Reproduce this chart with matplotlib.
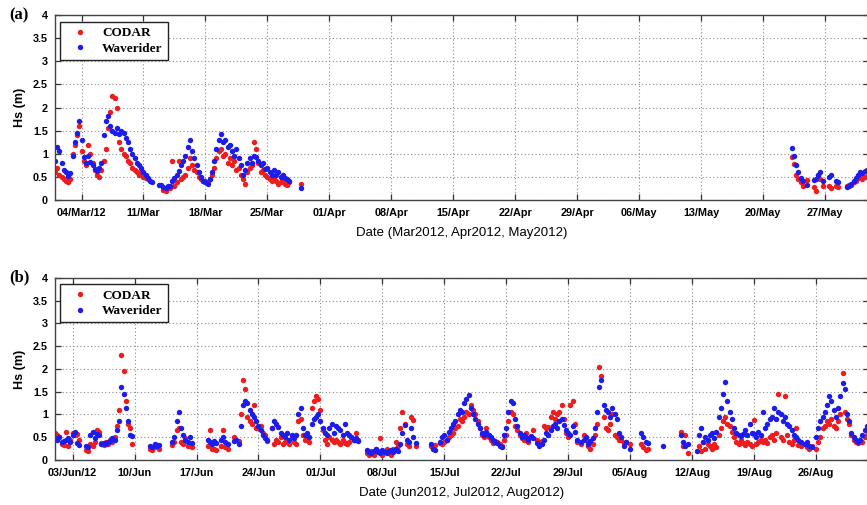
import numpy as np
import matplotlib
matplotlib.use("Agg")
import matplotlib.pyplot as plt

nan = float("nan")

# Significant wave height Hs (m), one reading every 6 hours from the start date.
# ---- Panel (a): March and late May 2012 ----
mar_start = "2012-03-01"
mar_codar = [
    0.60, 0.70, 0.55, 0.50,  0.45, 0.40, 0.38, 0.45,  1.00, 1.20, 1.40, 1.60,
    1.05, 0.85, 0.75, 1.20,  1.00, 0.80, 0.65, 0.55,  0.50, 0.65, 0.85, 1.10,
    1.55, 1.90, 2.25, 2.20,  2.00, 1.25, 1.10, 1.00,  0.95, 0.85, 0.80, 0.70,
    0.65, 0.60, 0.55, 0.60,  0.50, 0.48, 0.45, nan,   nan, nan, nan, nan,
    nan, 0.22, 0.20, 0.25,   0.25, 0.85, 0.30, 0.38,  0.85, 0.45, 0.50, 0.55,
    0.70, 0.90, 0.75, 0.65,  0.60, 0.50, 0.45, 0.42,  0.40, 0.38, 0.45, 0.55,
    0.70, 0.90, 1.05, 1.10,  0.95, 1.00, 0.80, 0.90,  0.75, 0.85, 0.65, 0.70,
    0.55, 0.45, 0.35, 0.60,  0.70, 0.75, 1.25, 1.10,  0.80, 0.60, 0.65, 0.55,
    0.50, 0.45, 0.40, 0.48,  0.40, 0.35, 0.38, 0.42,  0.35, 0.32, 0.38, nan,
    nan, nan, nan, 0.35,
]
mar_waverider = [
    0.85, 1.15, 1.05, 0.80,  0.65, 0.60, 0.52, 0.58,  0.95, 1.25, 1.45, 1.72,
    1.30, 0.92, 0.80, 0.95,  0.82, 0.75, 0.68, 0.62,  0.70, 0.80, 1.40, 1.70,
    1.82, 1.60, 1.50, 1.45,  1.55, 1.42, 1.50, 1.45,  1.35, 1.25, 1.10, 1.00,
    0.90, 0.80, 0.75, 0.70,  0.60, 0.55, 0.48, 0.42,  0.38, nan, nan, 0.33,
    0.32, 0.28, 0.25, 0.30,  0.30, 0.40, 0.48, 0.55,  0.62, 0.75, 0.85, 0.95,
    1.15, 1.30, 1.05, 0.90,  0.75, 0.60, 0.50, 0.42,  0.38, 0.35, 0.45, 0.60,
    0.85, 1.10, 1.30, 1.42,  1.25, 1.30, 1.15, 1.20,  1.05, 0.95, 1.10, 0.90,
    0.75, 0.55, 0.65, 0.80,  0.90, 0.80, 0.95, 0.92,  0.85, 0.75, 0.80, 0.68,
    0.70, 0.60, 0.55, 0.65,  0.55, 0.60, 0.50, 0.55,  0.48, 0.45, 0.40, nan,
    nan, nan, nan, 0.25,
]
may_start = "2012-05-23"
may_codar = [
    nan, 0.92, 0.78, 0.55,  0.45, 0.38, 0.30, nan,   0.43, nan, nan, 0.28,
    0.20, 0.55, 0.45, 0.30,  nan, nan, 0.30, 0.25,   nan, 0.30, 0.28, nan,
    nan, nan, 0.30, 0.32,    0.32, 0.38, 0.42, 0.48,  0.50, 0.45, 0.50, 0.52,
]
may_waverider = [
    nan, 1.12, 0.95, 0.75,  0.60, 0.48, 0.42, nan,   0.33, nan, nan, 0.43,
    0.45, 0.55, 0.60, 0.42,  nan, nan, 0.50, 0.55,   nan, 0.42, 0.38, nan,
    nan, nan, 0.28, 0.30,    0.35, 0.42, 0.48, 0.55,  0.60, 0.58, 0.62, 0.65,
]

# ---- Panel (b): June to August 2012 ----
summer_start = "2012-06-01"
summer_codar = [
    # June
    0.60, 0.55, 0.50, 0.35,  0.32, 0.62, 0.30, 0.45,  0.60, 0.55, 0.58, 0.45,
    nan, nan, 0.22, 0.20,    0.35, 0.30, 0.40, 0.65,  0.62, 0.38, 0.32, 0.40,
    0.35, 0.45, 0.40, 0.50,  0.75, 1.10, 2.30, 1.95,  1.30, 0.80, 0.70, 0.35,
    nan, nan, nan, nan,      nan, nan, nan, 0.25,     0.22, 0.28, 0.33, 0.25,
    nan, nan, nan, nan,      nan, 0.32, 0.40, 0.65,   0.70, 0.40, 0.35, 0.48,
    0.30, 0.30, 0.28, nan,   nan, nan, nan, nan,      nan, 0.30, 0.65, 0.25,
    0.25, 0.22, nan, 0.30,   0.65, 0.28, 0.25, nan,   nan, 0.50, 0.45, 0.42,
    1.00, 1.75, 1.55, 0.95,  0.85, 0.80, 1.20, 0.70,  0.70, 0.75, 0.60, 0.55,
    0.42, nan, 0.70, 0.35,   0.45, 0.40, 0.50, 0.35,  0.40, 0.45, 0.35, 0.50,
    0.40, 0.35, 0.85, 0.90,  0.55, 0.45, 0.50, 0.40,  1.15, 1.30, 1.40, 1.35,
    # July
    1.10, 0.65, 0.45, 0.35,  0.50, 0.45, 0.40, 0.45,  0.40, 0.35, 0.45, 0.38,
    0.35, 0.40, 0.50, 0.45,  0.60, 0.45, nan, nan,    nan, 0.15, 0.12, 0.20,
    0.10, 0.25, 0.20, 0.48,  0.12, 0.18, 0.25, 0.15,  0.10, 0.25, 0.40, 0.30,
    0.70, 1.05, 0.80, 0.35,  0.30, 0.95, 0.88, 0.30,  nan, nan, nan, nan,
    nan, nan, 0.30, 0.28,    0.32, nan, 0.38, 0.35,   0.40, 0.45, 0.50, 0.55,
    0.60, 0.70, 0.75, 0.90,  0.85, 0.95, 1.05, 1.00,  1.20, 1.10, 1.00, 0.85,
    0.70, 0.55, 0.50, 0.70,  0.50, 0.45, 0.38, 0.42,  0.40, 0.35, 0.30, 0.45,
    0.55, 0.85, 1.05, 1.00,  0.75, 0.65, 0.55, 0.48,  0.45, 0.60, 0.40, 0.50,
    0.65, nan, 0.45, 0.40,   0.42, 0.75, 0.70, 0.72,  0.95, 1.05, 0.90, 1.00,
    1.05, 1.20, 0.90, 0.60,  0.50, 1.20, 1.30, 0.80,  0.40, nan, 0.35, 0.55,
    0.45, 0.30, 0.25, 0.35,
    # August
    0.55, 0.80, 2.05, 1.85,  0.95, 0.70, 0.65, 0.80,  1.00, 0.55, 0.50, 0.45,
    0.45, 0.38, 0.40, nan,   0.35, nan, nan, nan,     nan, 0.35, 0.28, 0.22,
    0.25, nan, nan, nan,     nan, nan, nan, nan,      nan, nan, nan, nan,
    nan, nan, nan, 0.62,     0.30, 0.55, 0.15, nan,   nan, nan, nan, 0.30,
    0.20, 0.40, 0.25, 0.35,  0.30, 0.25, 0.35, 0.28,  0.55, 0.70, 0.85, 0.95,
    0.80, 0.75, 0.62, 0.50,  0.40, 0.35, 0.45, 0.38,  0.32, 0.40, 0.35, 0.30,
    0.88, 0.35, 0.40, 0.45,  0.40, 0.45, 0.38, 0.50,  0.55, 0.45, 0.60, 1.45,
    0.50, 0.45, 1.40, 0.55,  0.40, 0.35, 0.45, 0.70,  0.33, 0.30, nan, 0.35,
    0.28, 0.25, 0.30, nan,   0.25, 0.40, 0.50, 0.70,  0.75, 0.85, 0.80, 0.90,
    0.75, 0.70, 0.85, 1.00,  1.90, 1.05, 0.90, 0.80,  0.55, 0.45, 0.40, 0.38,
    0.42, 0.40, 0.50, 0.55,
]
summer_waverider = [
    # June
    0.48, 0.45, 0.50, 0.40,  0.42, 0.45, 0.48, 0.40,  0.55, 0.62, 0.38, 0.32,
    nan, nan, 0.30, 0.28,    0.55, 0.62, 0.48, 0.58,  0.55, 0.35, 0.38, 0.35,
    0.40, 0.42, 0.48, 0.45,  0.65, 0.85, 1.60, 1.45,  1.15, 0.85, 0.55, 0.52,
    nan, nan, nan, nan,      nan, nan, nan, 0.30,     0.28, 0.35, 0.30, 0.32,
    nan, nan, nan, nan,      nan, 0.40, 0.50, 0.85,   1.05, 0.70, 0.55, 0.45,
    0.40, 0.50, 0.38, nan,   nan, nan, nan, nan,      nan, 0.45, 0.40, 0.35,
    0.42, 0.38, nan, 0.45,   0.50, 0.40, 0.35, nan,   nan, 0.42, 0.45, 0.35,
    0.75, 1.20, 1.30, 1.25,  1.10, 1.00, 0.95, 0.85,  0.75, 0.65, 0.55, 0.48,
    0.45, nan, 0.70, 0.85,   0.80, 0.72, 0.60, 0.55,  0.50, 0.60, 0.45, 0.55,
    0.48, 0.55, 1.00, 1.15,  0.70, 0.55, 0.60, 0.50,  0.80, 0.90, 0.95, 1.00,
    # July
    0.85, 0.70, 0.60, 0.55,  0.70, 0.80, 0.60, 0.75,  0.70, 0.65, 0.55, 0.80,
    0.60, 0.55, 0.50, 0.45,  0.48, 0.42, nan, nan,    nan, 0.22, 0.18, 0.15,
    0.20, 0.25, 0.18, 0.15,  0.22, 0.18, 0.15, 0.20,  0.22, 0.18, 0.25, 0.20,
    0.35, 0.60, 0.78, 0.45,  0.40, 0.70, 0.50, 0.38,  nan, nan, nan, nan,
    nan, nan, 0.35, 0.25,    0.22, nan, 0.40, 0.50,   0.55, 0.45, 0.62, 0.70,
    0.80, 0.85, 1.00, 1.10,  1.05, 1.25, 1.35, 1.42,  1.15, 1.00, 0.90, 0.80,
    0.70, 0.60, 0.55, 0.62,  0.55, 0.50, 0.45, 0.40,  0.38, 0.30, 0.28, 0.55,
    0.70, 1.05, 1.30, 1.25,  0.90, 0.75, 0.60, 0.50,  0.55, 0.50, 0.45, 0.52,
    0.48, nan, 0.38, 0.30,   0.35, 0.45, 0.60, 0.55,  0.65, 0.75, 0.80, 0.70,
    0.85, 0.90, 0.78, 0.65,  0.60, 0.55, 0.75, 0.62,  0.45, nan, 0.40, 0.45,
    0.50, 0.35, 0.42, 0.48,
    # August
    0.70, 1.05, 1.60, 1.75,  1.20, 1.10, 1.05, 0.95,  1.15, 1.00, 0.90, 0.60,
    0.50, 0.30, 0.40, nan,   0.25, nan, nan, nan,     nan, 0.60, 0.50, 0.40,
    0.38, nan, nan, nan,     nan, nan, nan, 0.30,     nan, nan, nan, nan,
    nan, nan, nan, 0.55,     0.40, 0.30, 0.35, nan,   nan, nan, 0.20, 0.55,
    0.70, 0.40, 0.50, 0.45,  0.55, 0.60, 0.48, 0.62,  0.95, 1.15, 1.45, 1.72,
    1.30, 1.05, 0.90, 0.70,  0.60, 0.55, 0.52, 0.58,  0.65, 0.55, 0.80, 0.60,
    0.58, 0.50, 0.62, 0.55,  1.05, 0.70, 0.80, 0.90,  0.95, 1.15, 0.90, 1.05,
    1.00, 0.85, 0.95, 0.80,  0.75, 0.65, 0.55, 0.50,  0.45, 0.40, nan, 0.35,
    0.40, 0.30, 0.28, nan,   0.50, 0.70, 0.85, 0.95,  1.05, 1.20, 1.40, 1.30,
    1.10, 0.95, 1.15, 1.40,  1.70, 1.55, 1.00, 0.85,  0.60, 0.50, 0.45, 0.40,
    0.45, 0.55, 0.65, 0.75,
]

# Axis ranges and date ticks
xlim_a = ("2012-03-01", "2012-06-01")
ticks_a = ["2012-03-04", "2012-03-11", "2012-03-18", "2012-03-25", "2012-04-01",
           "2012-04-08", "2012-04-15", "2012-04-22", "2012-04-29", "2012-05-06",
           "2012-05-13", "2012-05-20", "2012-05-27"]
labels_a = ["04/Mar/12", "11/Mar", "18/Mar", "25/Mar", "01/Apr", "08/Apr", "15/Apr",
            "22/Apr", "29/Apr", "06/May", "13/May", "20/May", "27/May"]
xlim_b = ("2012-06-01", "2012-09-01")
ticks_b = ["2012-06-03", "2012-06-10", "2012-06-17", "2012-06-24", "2012-07-01",
           "2012-07-08", "2012-07-15", "2012-07-22", "2012-07-29", "2012-08-05",
           "2012-08-12", "2012-08-19", "2012-08-26"]
labels_b = ["03/Jun/12", "10/Jun", "17/Jun", "24/Jun", "01/Jul", "08/Jul", "15/Jul",
            "22/Jul", "29/Jul", "05/Aug", "12/Aug", "19/Aug", "26/Aug"]
yticks = [0, 0.5, 1, 1.5, 2, 2.5, 3, 3.5, 4]
ytick_labels = ["0", "0.5", "1", "1.5", "2", "2.5", "3", "3.5", "4"]

RED = "#ee1c1c"
BLUE = "#1c1cee"


def times(start, values):
    return np.datetime64(start) + np.arange(len(values)) * np.timedelta64(6, "h")


def dots(ax, start, values, color, label=None):
    v = np.array(values, dtype=float)
    ax.plot(times(start, v), v, linestyle="none", marker="o", ms=3.9,
            mec="none", color=color, label=label)


def style(ax, xlim, ticks, labels, xlabel, tag):
    ax.set_xlim(np.datetime64(xlim[0]), np.datetime64(xlim[1]))
    ax.set_ylim(0, 4)
    ax.set_xticks([np.datetime64(t) for t in ticks])
    ax.set_xticklabels(labels)
    ax.set_yticks(yticks)
    ax.set_yticklabels(ytick_labels)
    for lab in ax.get_xticklabels() + ax.get_yticklabels():
        lab.set_fontfamily("Liberation Sans")
        lab.set_fontweight("bold")
        lab.set_fontsize(7.8)
    ax.tick_params(axis="x", direction="in", length=4, width=0.9, top=True,
                   color="#333333", pad=6)
    ax.tick_params(axis="y", direction="in", length=4, width=0.9, right=True,
                   color="#333333", pad=5)
    ax.grid(True, linestyle=(0, (1, 2.2)), color="#8a8a8a", linewidth=0.8)
    for sp in ax.spines.values():
        sp.set_color("#444444")
        sp.set_linewidth(1.0)
    ax.set_ylabel("Hs (m)", fontfamily="Liberation Sans", fontsize=9,
                  fontweight="bold", labelpad=5)
    ax.set_xlabel(xlabel, fontfamily="Liberation Sans", fontsize=9.5, labelpad=6.5)
    leg = ax.legend(loc="upper left", bbox_to_anchor=(0.006, 0.965),
                    borderaxespad=0, numpoints=1, handlelength=2.2,
                    handletextpad=0.6, borderpad=0.4, labelspacing=0.25,
                    fancybox=False, framealpha=1, edgecolor="#222222",
                    prop={"family": "Liberation Serif", "weight": "bold",
                          "size": 9.5})
    leg.get_frame().set_linewidth(1.0)
    ax.text(-0.056, 1.0, tag, transform=ax.transAxes, ha="left", va="center",
            fontfamily="Liberation Serif", fontweight="bold", fontsize=12)


fig = plt.figure(figsize=(8.67, 5.05), dpi=100)
ax_a = fig.add_axes([0.0634, 0.604, 0.939, 0.366])
ax_b = fig.add_axes([0.0634, 0.089, 0.939, 0.361])

dots(ax_a, mar_start, mar_codar, RED, "CODAR")
dots(ax_a, may_start, may_codar, RED)
dots(ax_a, mar_start, mar_waverider, BLUE, "Waverider")
dots(ax_a, may_start, may_waverider, BLUE)
style(ax_a, xlim_a, ticks_a, labels_a, "Date (Mar2012, Apr2012, May2012)", "(a)")

dots(ax_b, summer_start, summer_codar, RED, "CODAR")
dots(ax_b, summer_start, summer_waverider, BLUE, "Waverider")
style(ax_b, xlim_b, ticks_b, labels_b, "Date (Jun2012, Jul2012, Aug2012)", "(b)")

fig.savefig("out.png", dpi=100)
